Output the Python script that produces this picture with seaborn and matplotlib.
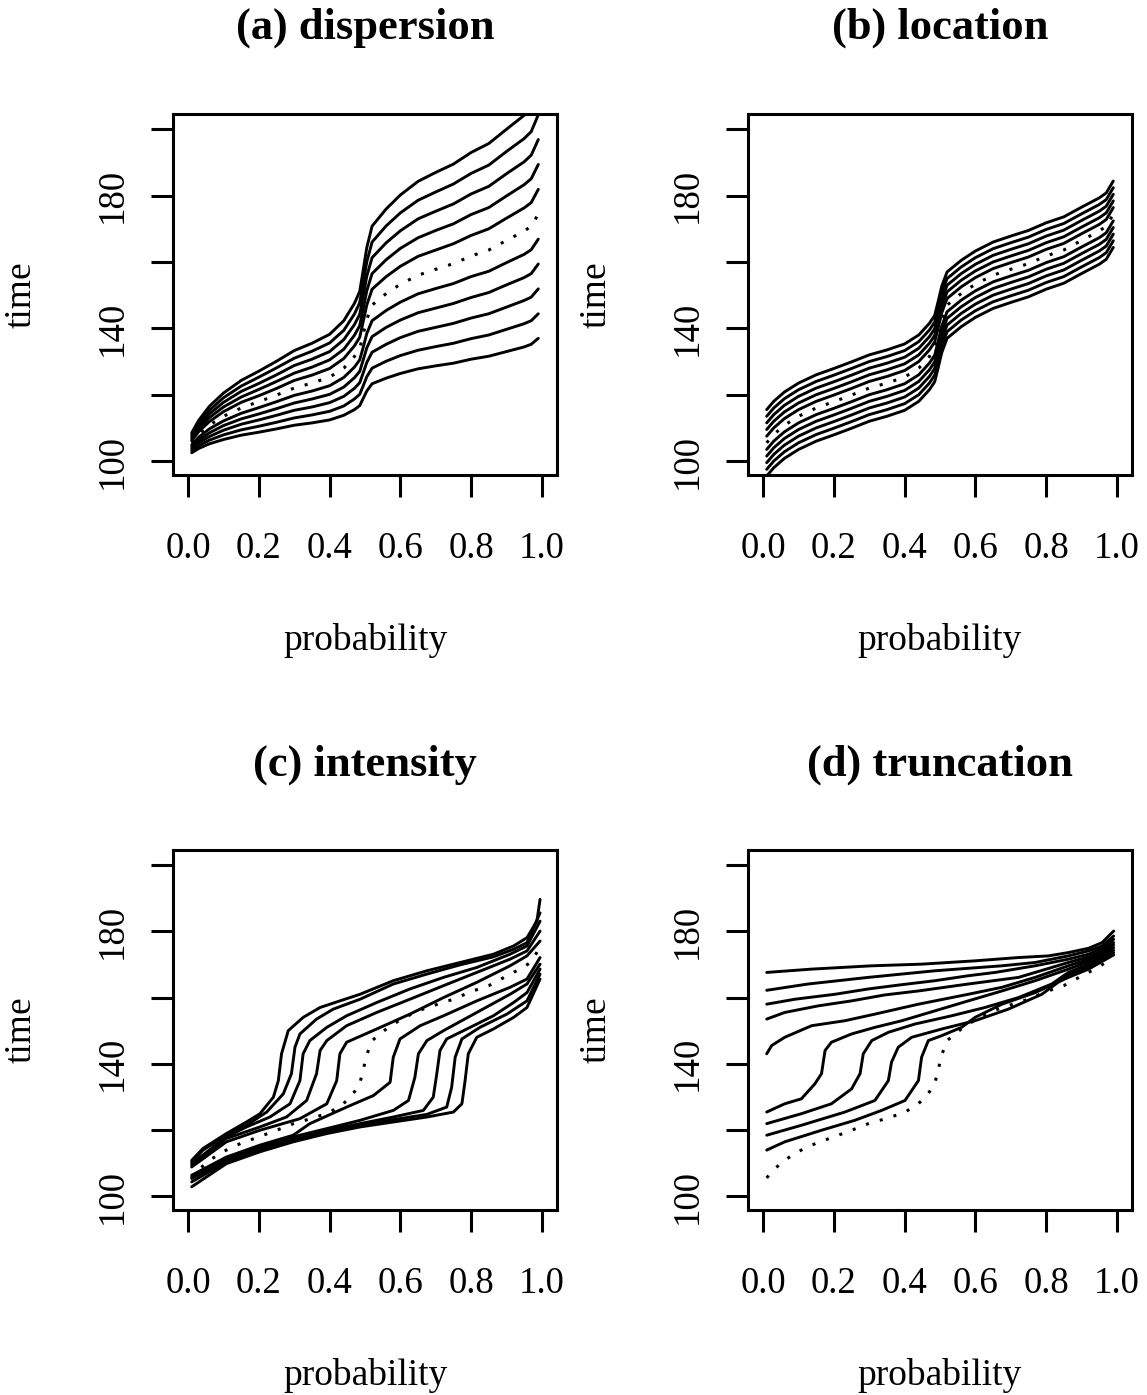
import numpy as np
import pandas as pd
import matplotlib
matplotlib.use('Agg')
import matplotlib.pyplot as plt
import seaborn as sns

sns.set_theme(style='white')
plt.rcParams['font.family'] = ['Liberation Serif', 'DejaVu Serif']
plt.rcParams['lines.scale_dashes'] = False

# shared probability grid and the dotted reference curve (same in all panels)
prob = [0.01, 0.03, 0.06, 0.10, 0.15, 0.20, 0.25, 0.30, 0.35, 0.40, 0.44, 0.47, 0.485,
        0.495, 0.505, 0.52, 0.56, 0.60, 0.65, 0.70, 0.75, 0.80, 0.85, 0.90, 0.95, 0.97, 0.99]
ref_time = [105.5, 108.0, 110.8, 113.5, 116.0, 117.9, 119.9, 122.0, 123.5, 125.3, 128.0, 131.5, 133.9,
            138.2, 142.7, 147.0, 150.5, 153.3, 156.0, 157.8, 159.5, 161.8, 163.6, 166.5, 169.3, 170.8, 174.4]

# (a) dispersion
disp_time = [
    [102.5, 103.8, 105.2, 106.5, 107.8, 108.7, 109.7, 110.8, 111.5, 112.4, 113.8, 115.5, 116.7, 118.9, 121.1, 123.3, 125.0, 126.4, 127.8, 128.7, 129.5, 130.7, 131.6, 133.0, 134.4, 135.2, 137.0],
    [103.1, 104.6, 106.3, 107.9, 109.4, 110.5, 111.7, 113.0, 113.9, 115.0, 116.6, 118.7, 120.1, 122.7, 125.4, 128.0, 130.1, 131.8, 133.4, 134.5, 135.5, 136.9, 138.0, 139.7, 141.4, 142.3, 144.4],
    [103.7, 105.5, 107.4, 109.3, 111.1, 112.4, 113.8, 115.3, 116.3, 117.6, 119.5, 121.9, 123.6, 126.6, 129.7, 132.8, 135.2, 137.2, 139.1, 140.3, 141.5, 143.1, 144.4, 146.4, 148.4, 149.4, 151.9],
    [104.3, 106.3, 108.5, 110.7, 112.7, 114.2, 115.8, 117.5, 118.7, 120.1, 122.3, 125.1, 127.0, 130.5, 134.1, 137.5, 140.3, 142.5, 144.7, 146.1, 147.5, 149.3, 150.8, 153.1, 155.3, 156.5, 159.4],
    [104.9, 107.2, 109.7, 112.1, 114.4, 116.1, 117.9, 119.8, 121.1, 122.7, 125.2, 128.3, 130.5, 134.3, 138.4, 142.3, 145.4, 147.9, 150.4, 152.0, 153.5, 155.6, 157.2, 159.8, 162.3, 163.7, 166.9],
    [106.1, 108.9, 111.9, 114.9, 117.7, 119.7, 121.9, 124.3, 125.9, 127.9, 130.9, 134.7, 137.3, 142.1, 147.0, 151.8, 155.6, 158.7, 161.7, 163.6, 165.5, 168.0, 170.0, 173.2, 176.3, 177.9, 181.9],
    [106.7, 109.7, 113.1, 116.3, 119.3, 121.6, 124.0, 126.5, 128.3, 130.5, 133.7, 137.9, 140.8, 145.9, 151.3, 156.5, 160.7, 164.1, 167.3, 169.5, 171.5, 174.3, 176.4, 179.9, 183.3, 185.1, 189.4],
    [107.3, 110.6, 114.2, 117.7, 121.0, 123.4, 126.0, 128.8, 130.7, 133.0, 136.6, 141.1, 144.2, 149.8, 155.7, 161.3, 165.8, 169.4, 173.0, 175.3, 177.5, 180.5, 182.8, 186.6, 190.2, 192.2, 196.9],
    [107.9, 111.4, 115.3, 119.1, 122.6, 125.3, 128.1, 131.0, 133.1, 135.6, 139.4, 144.3, 147.7, 153.7, 160.0, 166.0, 170.9, 174.8, 178.6, 181.1, 183.5, 186.7, 189.2, 193.3, 197.2, 199.3, 204.4],
    [108.5, 112.3, 116.5, 120.5, 124.3, 127.1, 130.1, 133.3, 135.5, 138.2, 142.3, 147.5, 151.1, 157.6, 164.3, 170.8, 176.0, 180.2, 184.3, 187.0, 189.5, 193.0, 195.7, 200.0, 204.2, 206.5, 211.9],
]

# (b) location
loc_time = [
    [95.5, 98.0, 100.8, 103.5, 106.0, 107.9, 109.9, 112.0, 113.5, 115.3, 118.0, 121.5, 123.9, 128.2, 132.7, 137.0, 140.5, 143.3, 146.0, 147.8, 149.5, 151.8, 153.6, 156.5, 159.3, 160.8, 164.4],
    [97.5, 100.0, 102.8, 105.5, 108.0, 109.9, 111.9, 114.0, 115.5, 117.3, 120.0, 123.5, 125.9, 130.2, 134.7, 139.0, 142.5, 145.3, 148.0, 149.8, 151.5, 153.8, 155.6, 158.5, 161.3, 162.8, 166.4],
    [99.5, 102.0, 104.8, 107.5, 110.0, 111.9, 113.9, 116.0, 117.5, 119.3, 122.0, 125.5, 127.9, 132.2, 136.7, 141.0, 144.5, 147.3, 150.0, 151.8, 153.5, 155.8, 157.6, 160.5, 163.3, 164.8, 168.4],
    [101.5, 104.0, 106.8, 109.5, 112.0, 113.9, 115.9, 118.0, 119.5, 121.3, 124.0, 127.5, 129.9, 134.2, 138.7, 143.0, 146.5, 149.3, 152.0, 153.8, 155.5, 157.8, 159.6, 162.5, 165.3, 166.8, 170.4],
    [103.5, 106.0, 108.8, 111.5, 114.0, 115.9, 117.9, 120.0, 121.5, 123.3, 126.0, 129.5, 131.9, 136.2, 140.7, 145.0, 148.5, 151.3, 154.0, 155.8, 157.5, 159.8, 161.6, 164.5, 167.3, 168.8, 172.4],
    [107.5, 110.0, 112.8, 115.5, 118.0, 119.9, 121.9, 124.0, 125.5, 127.3, 130.0, 133.5, 135.9, 140.2, 144.7, 149.0, 152.5, 155.3, 158.0, 159.8, 161.5, 163.8, 165.6, 168.5, 171.3, 172.8, 176.4],
    [109.5, 112.0, 114.8, 117.5, 120.0, 121.9, 123.9, 126.0, 127.5, 129.3, 132.0, 135.5, 137.9, 142.2, 146.7, 151.0, 154.5, 157.3, 160.0, 161.8, 163.5, 165.8, 167.6, 170.5, 173.3, 174.8, 178.4],
    [111.5, 114.0, 116.8, 119.5, 122.0, 123.9, 125.9, 128.0, 129.5, 131.3, 134.0, 137.5, 139.9, 144.2, 148.7, 153.0, 156.5, 159.3, 162.0, 163.8, 165.5, 167.8, 169.6, 172.5, 175.3, 176.8, 180.4],
    [113.5, 116.0, 118.8, 121.5, 124.0, 125.9, 127.9, 130.0, 131.5, 133.3, 136.0, 139.5, 141.9, 146.2, 150.7, 155.0, 158.5, 161.3, 164.0, 165.8, 167.5, 169.8, 171.6, 174.5, 177.3, 178.8, 182.4],
    [115.5, 118.0, 120.8, 123.5, 126.0, 127.9, 129.9, 132.0, 133.5, 135.3, 138.0, 141.5, 143.9, 148.2, 152.7, 157.0, 160.5, 163.3, 166.0, 167.8, 169.5, 171.8, 173.6, 176.5, 179.3, 180.8, 184.4],
]

# (c) intensity: each curve has its own probability knots
int_prob = [
    [0.01, 0.042, 0.108, 0.165, 0.203, 0.241, 0.255, 0.264, 0.283, 0.325, 0.373, 0.429, 0.486, 0.58, 0.675, 0.769, 0.863, 0.92, 0.958, 0.986, 0.995],
    [0.01, 0.042, 0.108, 0.165, 0.222, 0.269, 0.292, 0.302, 0.316, 0.363, 0.41, 0.486, 0.58, 0.675, 0.769, 0.863, 0.92, 0.958, 0.995],
    [0.01, 0.108, 0.165, 0.231, 0.288, 0.316, 0.325, 0.344, 0.392, 0.448, 0.533, 0.627, 0.722, 0.816, 0.91, 0.958, 0.995],
    [0.01, 0.108, 0.203, 0.278, 0.335, 0.363, 0.373, 0.392, 0.448, 0.533, 0.627, 0.722, 0.816, 0.91, 0.958, 0.995],
    [0.01, 0.108, 0.203, 0.316, 0.392, 0.42, 0.429, 0.448, 0.533, 0.627, 0.722, 0.816, 0.91, 0.958, 0.995],
    [0.01, 0.108, 0.203, 0.297, 0.344, 0.448, 0.524, 0.571, 0.58, 0.599, 0.656, 0.722, 0.816, 0.91, 0.958, 0.995],
    [0.01, 0.108, 0.203, 0.297, 0.392, 0.486, 0.58, 0.623, 0.641, 0.651, 0.675, 0.722, 0.816, 0.91, 0.958, 0.995],
    [0.01, 0.108, 0.203, 0.297, 0.392, 0.486, 0.58, 0.665, 0.693, 0.703, 0.712, 0.731, 0.788, 0.863, 0.92, 0.958, 0.995],
    [0.01, 0.108, 0.203, 0.297, 0.392, 0.486, 0.58, 0.675, 0.731, 0.745, 0.755, 0.774, 0.825, 0.901, 0.958, 0.995],
    [0.01, 0.108, 0.203, 0.297, 0.392, 0.486, 0.58, 0.675, 0.75, 0.774, 0.783, 0.792, 0.816, 0.863, 0.92, 0.958, 0.995],
]
int_time = [
    [110.8, 114.4, 118.9, 122.4, 124.9, 129.9, 134.9, 143.0, 150.0, 154.0, 157.0, 159.0, 161.0, 165.1, 168.1, 170.6, 173.1, 175.6, 178.1, 183.1, 189.7],
    [110.3, 113.9, 118.4, 121.4, 125.4, 130.9, 137.0, 145.0, 149.0, 153.5, 156.5, 159.5, 164.1, 167.1, 169.9, 172.3, 174.6, 176.6, 185.6],
    [109.8, 117.9, 120.9, 123.9, 127.9, 134.9, 143.0, 147.0, 151.0, 154.5, 158.5, 162.6, 166.1, 169.1, 173.1, 175.6, 183.1],
    [109.3, 117.4, 120.9, 123.9, 128.9, 137.0, 144.0, 147.0, 151.5, 155.5, 159.5, 163.6, 167.6, 171.6, 174.1, 180.1],
    [108.8, 116.4, 119.9, 123.4, 127.9, 134.9, 143.0, 146.5, 150.5, 155.0, 160.0, 164.6, 169.6, 172.6, 177.1],
    [106.3, 111.8, 115.4, 118.4, 121.9, 126.9, 130.4, 134.4, 142.0, 147.5, 151.5, 154.5, 159.0, 163.1, 165.6, 172.1],
    [105.8, 111.3, 114.9, 117.9, 120.4, 122.9, 125.9, 128.9, 135.9, 143.0, 147.0, 150.0, 155.5, 161.0, 164.1, 170.1],
    [105.3, 110.8, 114.4, 117.4, 119.9, 121.9, 123.9, 125.9, 129.9, 137.0, 144.0, 147.5, 150.5, 154.5, 158.5, 161.5, 168.6],
    [104.3, 110.3, 113.9, 116.9, 119.4, 121.4, 123.1, 124.7, 126.9, 132.9, 142.0, 147.5, 151.0, 155.0, 159.0, 167.1],
    [102.8, 109.8, 113.4, 116.4, 118.9, 120.9, 122.4, 123.9, 125.4, 127.9, 134.9, 143.0, 148.0, 150.5, 154.0, 157.0, 165.6],
]

# (d) truncation
trunc_prob = [
    [0.01, 0.137, 0.307, 0.448, 0.599, 0.722, 0.807, 0.863, 0.92, 0.958, 0.991],
    [0.01, 0.127, 0.297, 0.486, 0.675, 0.769, 0.863, 0.92, 0.958, 0.991],
    [0.01, 0.09, 0.203, 0.297, 0.392, 0.486, 0.58, 0.656, 0.769, 0.863, 0.92, 0.958, 0.991],
    [0.01, 0.061, 0.156, 0.25, 0.344, 0.439, 0.58, 0.722, 0.863, 0.92, 0.958, 0.991],
    [0.01, 0.024, 0.061, 0.137, 0.231, 0.316, 0.439, 0.58, 0.675, 0.769, 0.863, 0.92, 0.958, 0.991],
    [0.01, 0.061, 0.108, 0.146, 0.165, 0.175, 0.193, 0.25, 0.316, 0.392, 0.486, 0.58, 0.675, 0.769, 0.863, 0.92, 0.958, 0.991],
    [0.01, 0.108, 0.193, 0.25, 0.274, 0.283, 0.307, 0.354, 0.429, 0.533, 0.627, 0.722, 0.816, 0.863, 0.92, 0.958, 0.991],
    [0.01, 0.108, 0.231, 0.316, 0.354, 0.363, 0.382, 0.42, 0.505, 0.599, 0.693, 0.788, 0.863, 0.92, 0.958, 0.991],
    [0.01, 0.061, 0.165, 0.259, 0.335, 0.401, 0.439, 0.448, 0.467, 0.505, 0.561, 0.599, 0.675, 0.769, 0.863, 0.92, 0.958, 0.991],
]
trunc_time = [
    [167.6, 168.6, 169.6, 170.1, 171.1, 172.1, 172.6, 173.6, 174.9, 176.6, 180.1],
    [162.2, 164.1, 166.1, 168.1, 169.6, 170.6, 172.6, 174.1, 175.6, 178.6],
    [158.0, 159.5, 161.0, 162.6, 163.9, 165.1, 166.6, 167.6, 169.6, 171.6, 173.1, 174.9, 177.6],
    [153.5, 155.5, 157.5, 159.0, 160.8, 162.0, 164.1, 166.1, 170.6, 172.3, 174.1, 176.6],
    [143.0, 145.5, 148.0, 151.5, 153.0, 155.0, 158.0, 161.0, 163.1, 166.1, 169.6, 171.6, 173.3, 175.9],
    [125.4, 127.9, 129.4, 133.9, 137.0, 144.0, 146.5, 149.0, 151.0, 153.0, 156.0, 159.0, 162.0, 165.1, 168.6, 170.9, 172.6, 175.1],
    [121.9, 124.9, 127.9, 132.4, 137.0, 143.0, 147.0, 149.5, 152.0, 154.5, 157.0, 160.0, 164.1, 167.6, 170.1, 172.1, 174.3],
    [118.4, 121.4, 125.4, 128.9, 134.9, 140.5, 145.0, 148.0, 150.5, 153.0, 156.5, 161.0, 166.9, 169.3, 171.4, 173.6],
    [113.9, 116.4, 119.9, 122.9, 125.9, 128.9, 134.9, 142.0, 147.0, 148.5, 151.0, 154.0, 158.0, 161.5, 166.1, 168.6, 170.9, 172.9],
]

titles = ['(a) dispersion', '(b) location', '(c) intensity', '(d) truncation']


def long_frame(prob_lists, time_lists):
    rows = []
    for k, (pp, tt) in enumerate(zip(prob_lists, time_lists)):
        for p, t in zip(pp, tt):
            rows.append((k, p, t))
    return pd.DataFrame(rows, columns=['curve', 'probability', 'time'])


panels = [
    long_frame([prob] * len(disp_time), disp_time),
    long_frame([prob] * len(loc_time), loc_time),
    long_frame(int_prob, int_time),
    long_frame(trunc_prob, trunc_time),
]
ref_df = pd.DataFrame({'probability': prob, 'time': ref_time})

W, H = 1147, 1395
fig = plt.figure(figsize=(W / 100, H / 100), dpi=100)
boxes = [(173.3, 114, 383.4, 361), (748.3, 114, 383.4, 361),
         (173.3, 850, 383.4, 360), (748.3, 850, 383.4, 360)]

for i, (x0, y0, bw, bh) in enumerate(boxes):
    ax = fig.add_axes([x0 / W, 1 - (y0 + bh) / H, bw / W, bh / H])
    sns.lineplot(data=panels[i], x='probability', y='time', units='curve', estimator=None,
                 color='black', linewidth=2.1, ax=ax, legend=False)
    sns.lineplot(data=ref_df, x='probability', y='time', color='black', linewidth=2.2,
                 linestyle=(0, (2.2, 8.1)), dash_capstyle='butt', ax=ax)
    ax.set_xlim(-0.042, 1.042)
    ax.set_ylim(95.8, 204.6)
    ax.set_xticks([0.0, 0.2, 0.4, 0.6, 0.8, 1.0])
    ax.set_xticklabels(['0.0', '0.2', '0.4', '0.6', '0.8', '1.0'])
    ax.set_yticks([100, 120, 140, 160, 180, 200])
    ax.set_yticklabels(['100', '', '140', '', '180', ''], rotation=90, va='center')
    ax.tick_params(axis='both', direction='out', length=16, width=2.2, color='black',
                   labelsize=26.5, labelcolor='black', bottom=True, left=True)
    ax.tick_params(axis='x', pad=25)
    ax.tick_params(axis='y', pad=15)
    for sp in ax.spines.values():
        sp.set_visible(True)
        sp.set_color('black')
        sp.set_linewidth(2.2)
    ax.set_xlabel('probability', fontsize=27, color='black')
    ax.set_ylabel('time', fontsize=27, color='black')
    ax.xaxis.set_label_coords(0.5, -0.41)
    ax.yaxis.set_label_coords(-0.35, 0.5)
    ax.set_title(titles[i], fontsize=32, fontweight='bold', color='black', y=1.238, pad=0, va='center')

fig.savefig('out.png', dpi=100)
